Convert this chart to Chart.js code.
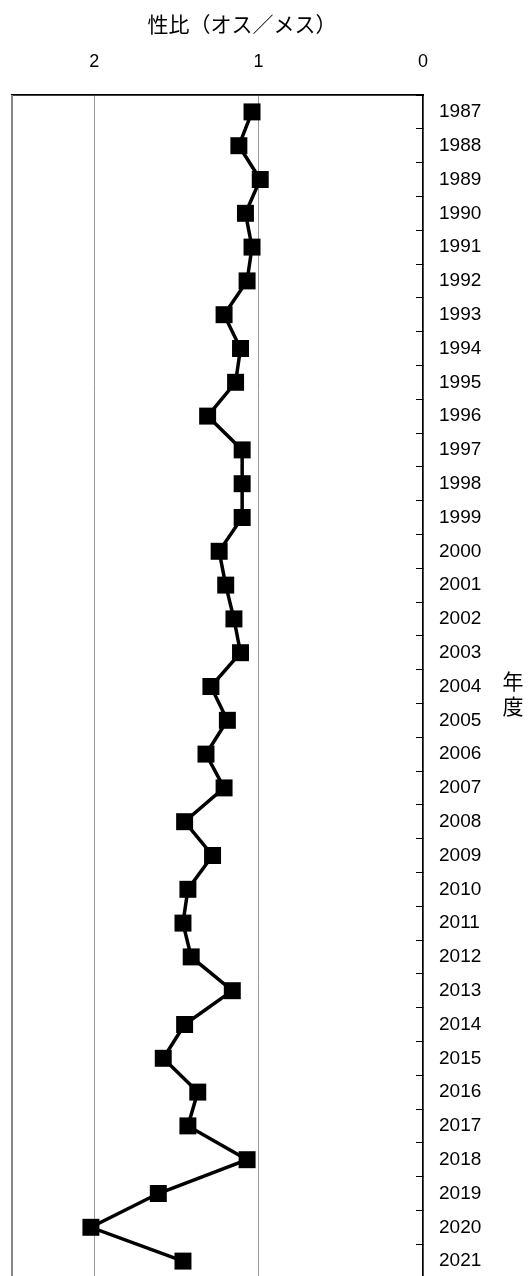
<!DOCTYPE html>
<html>
<head>
<meta charset="utf-8">
<script src="https://cdn.jsdelivr.net/npm/chart.js@4"></script>
<style>
  html, body { margin: 0; padding: 0; background: #fff; overflow: hidden; }
  canvas { display: block; }
</style>
</head>
<body>
<canvas id="chart" width="528" height="1290"></canvas>
<script>
// fiscal years (category axis, right side)
const years = ['1987', '1988', '1989', '1990', '1991', '1992', '1993', '1994', '1995', '1996',
  '1997', '1998', '1999', '2000', '2001', '2002', '2003', '2004', '2005', '2006',
  '2007', '2008', '2009', '2010', '2011', '2012', '2013', '2014', '2015', '2016',
  '2017', '2018', '2019', '2020', '2021'];

// sex ratio (male / female)
const sexRatio = [1.04, 1.12, 0.99, 1.08, 1.04, 1.07, 1.21, 1.11, 1.14, 1.31,
  1.10, 1.10, 1.10, 1.24, 1.20, 1.15, 1.11, 1.29, 1.19, 1.32,
  1.21, 1.45, 1.28, 1.43, 1.46, 1.41, 1.16, 1.45, 1.58, 1.37,
  1.43, 1.07, 1.61, 2.02, 1.46];

const ratioTicks = [0, 1, 2];

const FONT = "'Liberation Sans', 'Noto Sans CJK JP', sans-serif";
const JP_FONT = "'Noto Sans CJK JP', sans-serif";

// left edge of the plot box
const frameLeft = {
  id: 'frameLeft',
  beforeDatasetsDraw(chart) {
    const { ctx, chartArea } = chart;
    ctx.save();
    ctx.strokeStyle = '#888';
    ctx.lineWidth = 2;
    ctx.beginPath();
    ctx.moveTo(chartArea.left, chartArea.top);
    ctx.lineTo(chartArea.left, chartArea.bottom);
    ctx.stroke();
    ctx.restore();
  }
};

// chart title above the value axis, and stacked 年 / 度 beside the year labels
const titles = {
  id: 'titles',
  afterDraw(chart) {
    const { ctx, chartArea } = chart;
    ctx.save();
    ctx.fillStyle = '#000';
    ctx.textAlign = 'center';
    ctx.textBaseline = 'middle';
    ctx.font = '21px ' + JP_FONT;
    ctx.fillText('性比（オス／メス）', chartArea.left + 230, 24);
    const x = chartArea.right + 90;
    const cy = (chartArea.top + chartArea.bottom) / 2;
    ctx.fillText('年', x, cy - 5);
    ctx.fillText('度', x, cy + 20);
    ctx.restore();
  }
};

new Chart(document.getElementById('chart'), {
  type: 'line',
  data: {
    labels: years,
    datasets: [{
      data: sexRatio,
      borderColor: '#000',
      borderWidth: 3.5,
      pointStyle: 'rect',
      pointRadius: 12,
      pointBackgroundColor: '#000',
      pointBorderWidth: 0,
      tension: 0
    }]
  },
  options: {
    indexAxis: 'y',
    responsive: false,
    animation: false,
    layout: { padding: { left: 11, right: 0, top: 0, bottom: 10 } },
    plugins: {
      legend: { display: false },
      tooltip: { enabled: false }
    },
    scales: {
      x: {
        type: 'linear',
        position: 'top',
        reverse: true,
        min: 0,
        max: 2.5,
        afterBuildTicks: s => { s.ticks = ratioTicks.map(v => ({ value: v })); },
        afterFit: s => { s.height = 95; },
        grid: { color: '#999', lineWidth: 1, drawTicks: false },
        border: { color: '#000', width: 1.8 },
        ticks: { color: '#000', padding: 22, font: { family: FONT, size: 18 } }
      },
      y: {
        type: 'category',
        position: 'right',
        offset: true,
        afterFit: s => { s.width = 105; s.paddingTop = 0; s.paddingBottom = 0; },
        grid: { drawOnChartArea: false, offset: true, tickLength: -7, color: '#000', lineWidth: 1 },
        border: { color: '#000', width: 1.5 },
        ticks: { color: '#000', padding: 23, autoSkip: false, font: { family: FONT, size: 19 } }
      }
    }
  },
  plugins: [frameLeft, titles]
});
</script>
</body>
</html>
